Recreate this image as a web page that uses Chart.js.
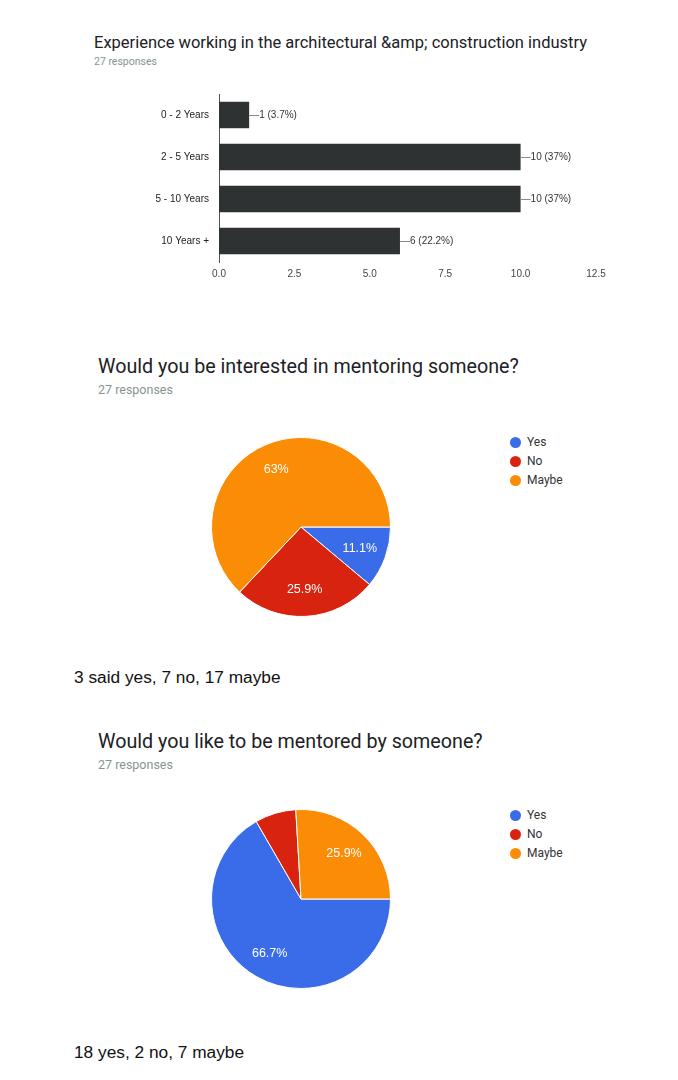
<!DOCTYPE html>
<html>
<head>
<meta charset="utf-8">
<script src="https://cdn.jsdelivr.net/npm/chart.js@4"></script>
<style>
  html, body { margin: 0; padding: 0; background: #ffffff; }
  body { width: 678px; height: 1080px; position: relative; overflow: hidden; font-family: Roboto, "Noto Sans", Arial, sans-serif; }
  .abs { position: absolute; white-space: nowrap; }
  .title { color: #202124; font-family: Roboto, Arial, sans-serif; }
  .resp { color: #86958f; font-family: Roboto, Arial, sans-serif; }
  .caption { color: #111111; font-family: "Liberation Sans", Arial, sans-serif; font-size: 17.3px; }
  .legend { font-family: Roboto, Arial, sans-serif; font-size: 12px; color: #333333; }
  .legend .row { height: 19px; line-height: 19px; display: flex; align-items: center; }
  .legend .dot { width: 11px; height: 11px; border-radius: 50%; margin-right: 6px; }
  canvas { position: absolute; }
</style>
</head>
<body>
<div class="abs title" style="left:94px; top:33px; font-size:16.5px; line-height:20px;">Experience working in the architectural &amp;amp; construction industry</div>
<div class="abs resp" style="left:94px; top:55px; font-size:10.5px; line-height:14px;">27 responses</div>
<canvas id="bar" width="520" height="210" style="left:100px; top:78px; width:520px; height:210px;"></canvas>

<div class="abs title" style="left:98px; top:355px; font-size:19.7px; line-height:24px;">Would you be interested in mentoring someone?</div>
<div class="abs resp" style="left:98px; top:382px; font-size:12.5px; line-height:16px;">27 responses</div>
<canvas id="pie1" width="180" height="180" style="left:211px; top:437px; width:180px; height:180px;"></canvas>
<div class="abs legend" id="legend1" style="left:510px; top:433px;"></div>
<div class="abs caption" style="left:74px; top:667px; line-height:20px;">3 said yes, 7 no, 17 maybe</div>

<div class="abs title" style="left:98px; top:730px; font-size:19.7px; line-height:24px;">Would you like to be mentored by someone?</div>
<div class="abs resp" style="left:98px; top:757px; font-size:12.5px; line-height:16px;">27 responses</div>
<canvas id="pie2" width="180" height="180" style="left:211px; top:809px; width:180px; height:180px;"></canvas>
<div class="abs legend" id="legend2" style="left:510px; top:806px;"></div>
<div class="abs caption" style="left:74px; top:1042px; line-height:20px;">18 yes, 2 no, 7 maybe</div>

<script>
// ---- Data ----
const barCategories = ['0 - 2 Years', '2 - 5 Years', '5 - 10 Years', '10 Years +'];
const barValues = [1, 10, 10, 6];
const barPercents = ['3.7%', '37%', '37%', '22.2%'];
const barTickMin = 0;
const barTickMax = 12.5;
const barTickStep = 2.5;

const pieLabels = ['Yes', 'No', 'Maybe'];
const mentoringCounts = [3, 7, 17];
const mentoringPercents = ['11.1%', '25.9%', '63%'];
const mentoredCounts = [18, 2, 7];
const mentoredPercents = ['66.7%', '7.4%', '25.9%'];

const pieColors = ['#3a6ce9', '#d8230f', '#fb8c05'];
const barColor = '#2f3232';

Chart.defaults.animation = false;
Chart.defaults.font.family = 'Roboto, Arial, sans-serif';

// ---- Bar chart value labels ----
const barLabelPlugin = {
  id: 'barLabels',
  afterDatasetsDraw(chart) {
    const ctx = chart.ctx;
    const meta = chart.getDatasetMeta(0);
    ctx.save();
    ctx.font = '10px "Liberation Sans", Arial, sans-serif';
    ctx.textBaseline = 'middle';
    ctx.textAlign = 'left';
    meta.data.forEach((bar, i) => {
      const x = bar.x, y = bar.y;
      ctx.strokeStyle = '#8a8a8a';
      ctx.lineWidth = 1;
      ctx.beginPath();
      ctx.moveTo(x, Math.round(y) + 0.5);
      ctx.lineTo(x + 10, Math.round(y) + 0.5);
      ctx.stroke();
      ctx.fillStyle = '#333333';
      ctx.fillText(barValues[i] + ' (' + barPercents[i] + ')', x + 10, y);
    });
    ctx.restore();
  }
};

new Chart(document.getElementById('bar'), {
  type: 'bar',
  data: {
    labels: barCategories,
    datasets: [{ data: barValues, backgroundColor: barColor, borderWidth: 0, categoryPercentage: 0.63, barPercentage: 1 }]
  },
  options: {
    indexAxis: 'y',
    responsive: false,
    maintainAspectRatio: false,
    layout: { padding: { top: 4, right: 24, bottom: 0, left: 0 } },
    plugins: { legend: { display: false }, tooltip: { enabled: false } },
    scales: {
      x: {
        min: barTickMin, max: barTickMax,
        ticks: { stepSize: barTickStep, color: '#444444', font: { size: 10, family: '"Liberation Sans", Arial, sans-serif' }, padding: 6,
                 callback: (v) => Number(v).toFixed(1) },
        grid: { display: false, drawTicks: false },
        border: { display: false },
        afterFit(scale) { scale.height = 26; }
      },
      y: {
        ticks: { color: '#222222', font: { size: 10, family: '"Liberation Sans", Arial, sans-serif' }, padding: 10 },
        grid: { display: false, drawTicks: false },
        border: { display: true, color: '#555555', width: 1 },
        afterFit(scale) { scale.width = 119; }
      }
    }
  },
  plugins: [barLabelPlugin]
});

// ---- Pie slice labels ----
function makePieLabelPlugin(percents) {
  return {
    id: 'pieLabels',
    afterDatasetsDraw(chart) {
      const ctx = chart.ctx;
      const meta = chart.getDatasetMeta(0);
      const total = chart.data.datasets[0].data.reduce((a, b) => a + b, 0);
      ctx.save();
      ctx.font = '12.5px "Liberation Sans", Arial, sans-serif';
      ctx.fillStyle = '#ffffff';
      ctx.textAlign = 'center';
      ctx.textBaseline = 'middle';
      meta.data.forEach((arc, i) => {
        const v = chart.data.datasets[0].data[i];
        if (v / total < 0.1) return;
        const mid = (arc.startAngle + arc.endAngle) / 2;
        const r = arc.outerRadius * 0.7;
        ctx.fillText(percents[i], arc.x + Math.cos(mid) * r, arc.y + Math.sin(mid) * r);
      });
      ctx.restore();
    }
  };
}

function makePie(id, counts, percents) {
  new Chart(document.getElementById(id), {
    type: 'pie',
    data: {
      labels: pieLabels,
      datasets: [{ data: counts, backgroundColor: pieColors, borderColor: '#ffffff', borderWidth: 1 }]
    },
    options: {
      responsive: false,
      maintainAspectRatio: false,
      rotation: 90,
      layout: { padding: 0 },
      plugins: { legend: { display: false }, tooltip: { enabled: false } }
    },
    plugins: [makePieLabelPlugin(percents)]
  });
}

makePie('pie1', mentoringCounts, mentoringPercents);
makePie('pie2', mentoredCounts, mentoredPercents);

function makeLegend(id) {
  const el = document.getElementById(id);
  pieLabels.forEach((lab, i) => {
    const row = document.createElement('div');
    row.className = 'row';
    const dot = document.createElement('span');
    dot.className = 'dot';
    dot.style.background = pieColors[i];
    const txt = document.createElement('span');
    txt.textContent = lab;
    row.appendChild(dot);
    row.appendChild(txt);
    el.appendChild(row);
  });
}
makeLegend('legend1');
makeLegend('legend2');
</script>
</body>
</html>
